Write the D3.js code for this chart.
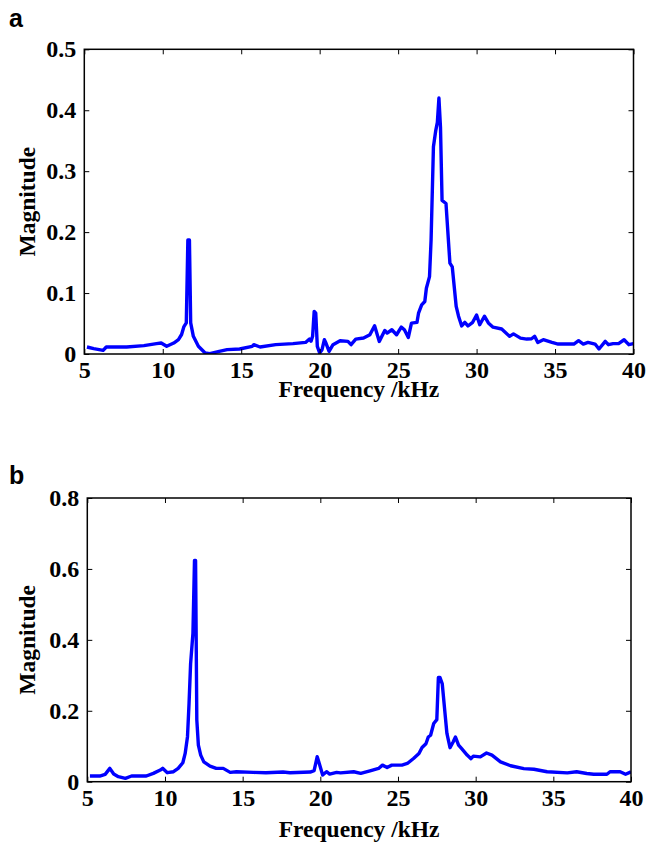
<!DOCTYPE html>
<html>
<head>
<meta charset="utf-8">
<script src="https://cdn.jsdelivr.net/npm/d3@7"></script>
<style>
  body { margin: 0; background: #fff; }
  svg { display: block; }
  .tick text, .lab { font-family: "Liberation Serif", "Times New Roman", serif; font-weight: bold; fill: #000; }
  .letter { font-family: "Liberation Sans", Arial, sans-serif; font-weight: bold; font-size: 25px; }
</style>
</head>
<body>
<script>
//spectrum a
var freqA = [5.17,5.6,6.2,6.4,7.7,8.8,9.6,9.9,10.25,10.7,11.0,11.2,11.35,11.5,11.6,11.7,11.78,11.95,12.27,12.7,13.0,13.6,14.1,14.9,15.7,15.8,16.2,17.2,18.3,19.1,19.35,19.45,19.55,19.65,19.75,19.85,20.0,20.15,20.3,20.4,20.6,20.85,21.3,21.8,22.0,22.3,22.8,23.2,23.5,23.8,24.15,24.3,24.6,24.9,25.2,25.4,25.65,25.85,26.2,26.3,26.5,26.7,26.8,27.0,27.1,27.25,27.4,27.5,27.6,27.7,27.8,28.05,28.3,28.45,28.7,28.85,29.05,29.25,29.45,29.75,30.0,30.2,30.5,30.75,31.05,31.6,32.1,32.35,32.8,33.2,33.5,33.7,33.9,34.25,34.8,35.2,36.2,36.5,36.8,37.1,37.55,37.8,38.2,38.4,38.7,39.05,39.4,39.7,40.0];
var magA = [0.0115,0.0087,0.006,0.0115,0.0115,0.0137,0.017,0.018,0.0126,0.018,0.0235,0.032,0.045,0.051,0.187,0.187,0.051,0.029,0.0126,0.0016,0.0005,0.0044,0.0071,0.0082,0.0126,0.0153,0.0115,0.0153,0.017,0.019,0.0246,0.021,0.029,0.07,0.067,0.0126,0.0016,0.0071,0.0235,0.018,0.0044,0.0153,0.0218,0.0207,0.0153,0.0245,0.0262,0.0316,0.0463,0.0207,0.0387,0.0343,0.0398,0.0316,0.0441,0.0398,0.0272,0.0507,0.0518,0.067,0.0807,0.0861,0.108,0.127,0.187,0.34,0.367,0.38,0.42,0.372,0.252,0.247,0.149,0.143,0.078,0.062,0.046,0.052,0.046,0.052,0.064,0.048,0.062,0.051,0.044,0.041,0.029,0.033,0.026,0.0245,0.025,0.029,0.019,0.0234,0.019,0.0163,0.0163,0.0218,0.0163,0.019,0.0163,0.0082,0.0207,0.0153,0.017,0.017,0.0234,0.0153,0.017];

//spectrum b
var freqB = [5.17,5.8,6.15,6.45,6.7,7.0,7.45,7.85,8.8,9.25,9.7,9.85,10.15,10.55,10.85,11.15,11.3,11.45,11.55,11.65,11.8,11.9,11.97,12.05,12.15,12.3,12.5,12.9,13.3,13.75,14.2,14.6,15.7,16.5,17.6,18.05,19.35,19.6,19.8,19.9,20.15,20.4,20.6,21.05,21.3,22.15,22.6,23.2,23.75,24.0,24.3,24.6,25.25,25.6,26.0,26.35,26.55,26.8,26.95,27.1,27.3,27.5,27.6,27.7,27.85,28.05,28.15,28.35,28.55,28.7,28.9,29.1,29.45,29.7,29.85,30.3,30.7,31.05,31.6,32.25,33.1,33.75,34.6,35.9,36.5,37.15,37.6,38.45,38.65,39.3,39.65,40.0];
var magB = [0.016,0.016,0.0207,0.0376,0.0216,0.0141,0.0094,0.016,0.016,0.0235,0.0329,0.0376,0.0254,0.0282,0.0376,0.0535,0.0798,0.127,0.221,0.333,0.418,0.624,0.624,0.174,0.103,0.075,0.056,0.044,0.0376,0.0376,0.0263,0.0282,0.0263,0.0254,0.0272,0.0254,0.0272,0.031,0.0704,0.0563,0.0188,0.0282,0.0216,0.0263,0.025,0.028,0.0234,0.0308,0.0374,0.0467,0.0402,0.0467,0.0467,0.0514,0.0654,0.0794,0.0963,0.107,0.126,0.131,0.164,0.175,0.294,0.294,0.276,0.182,0.136,0.096,0.112,0.126,0.103,0.093,0.075,0.065,0.072,0.070,0.081,0.075,0.056,0.045,0.037,0.035,0.028,0.025,0.028,0.023,0.021,0.021,0.028,0.028,0.021,0.028];

var xTicks = [5,10,15,20,25,30,35,40];
var yTicksA = [0,0.1,0.2,0.3,0.4,0.5];
var yTicksB = [0,0.2,0.4,0.6,0.8];

var width = 657, height = 842;

var svg = d3.select("body").append("svg")
    .attr("width", width)
    .attr("height", height);

//draw one panel
function drawPanel(opt){
    var x = d3.scaleLinear().domain([5, 40]).range([opt.left, opt.right]);
    var y = d3.scaleLinear().domain([0, opt.ymax]).range([opt.bottom, opt.top]);
    var g = svg.append("g");

    //curve, clipped to the box
    g.append("clipPath").attr("id", opt.id)
        .append("rect")
        .attr("x", opt.left).attr("y", opt.top)
        .attr("width", opt.right - opt.left).attr("height", opt.bottom - opt.top);

    var pts = opt.freq.map(function(f, i){ return [f, opt.mag[i]]; });
    var line = d3.line()
        .x(function(d){ return x(d[0]); })
        .y(function(d){ return y(d[1]); });

    g.append("path")
        .datum(pts)
        .attr("clip-path", "url(#" + opt.id + ")")
        .attr("fill", "none")
        .attr("stroke", "#0000ff")
        .attr("stroke-width", 3.4)
        .attr("stroke-linejoin", "round")
        .attr("d", line);

    //axes with inward ticks on all four sides
    var fs = "24px";
    var bottomAxis = g.append("g")
        .attr("transform", "translate(0," + opt.bottom + ")")
        .call(d3.axisBottom(x).tickValues(xTicks).tickSizeInner(-5).tickSizeOuter(0).tickPadding(7).tickFormat(d3.format("d")));
    var topAxis = g.append("g")
        .attr("transform", "translate(0," + opt.top + ")")
        .call(d3.axisTop(x).tickValues(xTicks).tickSizeInner(-5).tickSizeOuter(0).tickFormat(""));
    var leftAxis = g.append("g")
        .attr("transform", "translate(" + opt.left + ",0)")
        .call(d3.axisLeft(y).tickValues(opt.yTicks).tickSizeInner(-5).tickSizeOuter(0).tickPadding(8)
            .tickFormat(function(d){ return d === 0 ? "0" : d3.format(".1f")(d); }));
    var rightAxis = g.append("g")
        .attr("transform", "translate(" + opt.right + ",0)")
        .call(d3.axisRight(y).tickValues(opt.yTicks).tickSizeInner(-5).tickSizeOuter(0).tickFormat(""));

    [bottomAxis, topAxis, leftAxis, rightAxis].forEach(function(a){
        a.select(".domain").remove();
        a.selectAll(".tick line").attr("stroke", "#000").attr("stroke-width", 1);
        a.selectAll(".tick text").style("font-size", fs);
    });
    bottomAxis.selectAll(".tick text").attr("dy", "0.71em");

    //box
    g.append("rect")
        .attr("x", opt.left).attr("y", opt.top)
        .attr("width", opt.right - opt.left).attr("height", opt.bottom - opt.top)
        .attr("fill", "none").attr("stroke", "#000").attr("stroke-width", 1.5);

    //labels
    g.append("text").attr("class", "lab")
        .attr("x", (opt.left + opt.right) / 2).attr("y", opt.xlabY)
        .attr("text-anchor", "middle").style("font-size", "23.5px")
        .text("Frequency /kHz");
    g.append("text").attr("class", "lab")
        .attr("transform", "translate(35," + (opt.top + opt.bottom) / 2 + ") rotate(-90)")
        .attr("text-anchor", "middle").style("font-size", "23.5px")
        .text("Magnitude");
    g.append("text").attr("class", "letter")
        .attr("x", 9).attr("y", opt.letterY)
        .text(opt.letter);
}

drawPanel({id: "clipA", letter: "a", letterY: 27, freq: freqA, mag: magA, ymax: 0.5, yTicks: yTicksA,
    left: 84.3, right: 633.5, top: 49.3, bottom: 354, xlabY: 397});
drawPanel({id: "clipB", letter: "b", letterY: 484, freq: freqB, mag: magB, ymax: 0.8, yTicks: yTicksB,
    left: 87.3, right: 631, top: 498, bottom: 781.7, xlabY: 837});
</script>
</body>
</html>
